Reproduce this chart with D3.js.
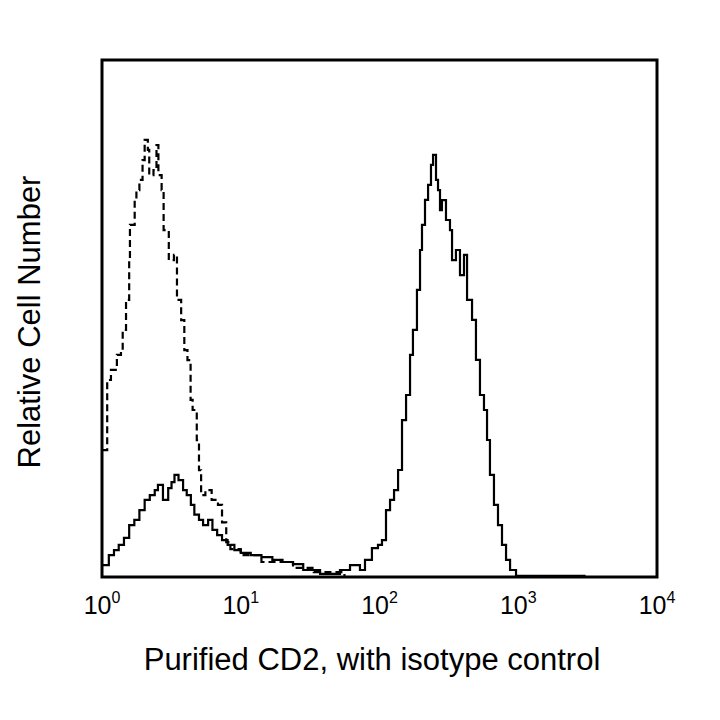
<!DOCTYPE html>
<html><head><meta charset="utf-8">
<script src="https://cdn.jsdelivr.net/npm/d3@7"></script>
<style>body{margin:0;background:#fff}text{font-family:"Liberation Sans",Arial,sans-serif}</style>
</head><body><svg id="c" width="720" height="720"></svg>
<script>
// fluorescence (log) and relative counts (0-200)
const isoX=[1.0,1.09,1.16,1.28,1.37,1.41,1.49,1.57,1.59,1.72,1.77,1.86,1.96,2.03,2.14,2.19,2.35,2.47,2.55,2.69,2.78,3.03,3.30,3.47,3.72,3.92,4.13,4.35,4.50,4.82,5.0,5.18,5.56,6.17,6.85,7.33,7.86,8.42,10.0,14.1,23.8,33.6,55.9];
const isoY=[49.1,76.2,80.1,85.9,87.8,95.6,107.2,122.6,136.2,145.8,149.7,153.6,161.3,169.1,165.2,155.5,157.4,167.1,155.5,149.7,134.2,122.6,124.6,107.2,99.4,87.8,83.9,68.5,64.6,52.9,41.3,31.7,33.6,29.8,27.9,21.1,13.5,10.8,8.5,5.8,3.5,1.9,0.4];
const cdX=[1.0,1.12,1.22,1.32,1.44,1.57,1.71,1.86,2.03,2.21,2.40,2.53,2.75,3.00,3.17,3.33,3.56,3.84,4.08,4.37,4.63,5.0,5.35,5.82,6.25,6.76,7.33,8.04,9.0,10.0,11.8,14.1,16.9,20.0,23.8,28.2,37.3,
 51.9,61.3,72.3,78.6,88.2,97.5,104.2,111.4,119.1,127.3,136.1,145.3,155.4,166.0,174.2,186.2,195.9,202.4,212.8,223.9,235.0,243.2,255.4,264.1,272.9,281.8,301.4,322.1,333.3,355.6,380.2,406.4,427.6,464.5,495.7,529.8,566.2,595.7,625.3,668.3,714.5,763.6,816.6,872.9,963.8,1216,3000];
const cdY=[4.6,8.5,10.4,12.4,15.1,20.1,22.1,25.9,29.8,31.7,33.6,35.6,29.8,34.4,36.7,39.5,37.5,33.6,31.7,27.9,24.1,22.1,20.1,22.1,18.2,16.2,14.3,12.4,10.4,9.3,8.5,7.7,6.6,5.8,5.0,2.7,1.2,
 2.7,4.6,2.7,6.6,11.2,12.4,14.3,25.9,29.8,33.6,41.4,60.7,70.4,85.9,95.6,111.1,126.5,136.2,145.9,151.7,159.4,163.3,153.6,149.7,141.9,145.8,138.1,134.2,122.6,126.5,116.8,124.6,107.2,99.5,84.0,70.4,64.6,53.0,39.5,27.9,20.1,12.4,6.6,2.7,0.4,0.4,0];
const xTicks=[1,10,100,1000,10000];
const xExp=["0","1","2","3","4"];

const svg=d3.select("#c");
const L=102,R=657,T=60,B=577;
const x=d3.scaleLog().domain([1,10000]).range([L,R]);
const y=d3.scaleLinear().domain([0,200]).range([B,T]);
const line=d3.line().x(d=>x(d[0])).y(d=>y(d[1])).curve(d3.curveStepAfter);
svg.append("path").attr("d",line(d3.zip(isoX,isoY))).attr("fill","none").attr("stroke","#000").attr("stroke-width",2.2).attr("stroke-dasharray","7,4");
svg.append("path").attr("d",line(d3.zip(cdX,cdY))).attr("fill","none").attr("stroke","#000").attr("stroke-width",2.2);
svg.append("rect").attr("x",L).attr("y",T).attr("width",R-L).attr("height",B-T).attr("fill","none").attr("stroke","#000").attr("stroke-width",3);
const tl=svg.append("g");
xTicks.forEach((t,i)=>{
  const tx=tl.append("text").attr("x",x(t)).attr("y",614).attr("text-anchor","middle").attr("font-size",25);
  tx.append("tspan").text("10");
  tx.append("tspan").attr("dy",-11).attr("font-size",16).text(xExp[i]);
});
svg.append("text").attr("x",372).attr("y",670).attr("text-anchor","middle").attr("font-size",31).text("Purified CD2, with isotype control");
svg.append("text").attr("transform","translate(40,322) rotate(-90)").attr("text-anchor","middle").attr("font-size",31).text("Relative Cell Number");
</script></body></html>
